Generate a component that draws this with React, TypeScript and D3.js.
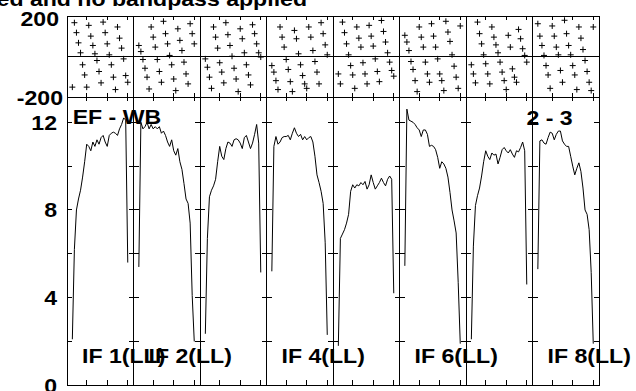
import * as d3 from 'd3';

// channels plotted in every IF
const channels = [3, 4, 5, 6, 7, 8, 9, 10, 11, 12, 13, 14, 15, 16, 17, 18, 19, 20, 21, 22, 23, 24, 25, 26, 27, 28, 29, 30];

// amplitude per IF (Jy-ish units)
const ampIF1 = [2.1, 6.2, 8.0, 8.5, 8.9, 9.5, 10.2, 11.0, 10.9, 10.7, 11.1, 10.9, 11.2, 11.0, 11.3, 11.4, 11.1, 10.9, 11.4, 11.5, 11.55, 11.5, 11.4, 11.7, 11.9, 12.2, 12.1, 5.6];
const ampIF2 = [5.4, 12.0, 11.7, 11.8, 12.0, 11.7, 11.9, 11.7, 11.8, 11.7, 11.8, 11.5, 11.6, 11.4, 11.1, 10.9, 11.2, 10.7, 10.5, 10.8, 10.2, 9.85, 9.2, 8.5, 8.3, 7.4, 4.1, 2.0];
const ampIF3 = [2.35, 6.7, 8.6, 8.9, 9.1, 9.4, 10.2, 10.9, 10.45, 10.3, 10.8, 11.1, 11.05, 10.9, 11.2, 11.25, 11.2, 11.05, 10.8, 11.3, 11.4, 11.1, 10.8, 11.05, 11.45, 11.9, 11.05, 5.15];
const ampIF4 = [5.2, 10.9, 11.35, 11.0, 11.1, 11.3, 11.35, 11.35, 11.4, 11.2, 11.5, 11.75, 11.5, 11.35, 11.45, 11.2, 11.35, 11.2, 11.3, 11.35, 11.1, 10.45, 9.6, 9.25, 8.85, 8.3, 6.5, 2.3];
const ampIF5 = [1.8, 6.7, 6.9, 7.1, 7.4, 7.8, 8.85, 9.15, 9.0, 9.15, 9.1, 9.25, 9.15, 9.3, 8.95, 9.15, 9.6, 9.25, 8.95, 9.1, 9.25, 9.45, 9.25, 9.1, 9.4, 9.55, 9.4, 4.2];
const ampIF6 = [5.45, 12.6, 12.1, 12.05, 12.0, 11.9, 11.75, 11.65, 11.35, 11.65, 11.65, 11.45, 10.9, 10.95, 10.9, 10.75, 10.4, 9.9, 10.2, 10.1, 9.9, 9.5, 8.8, 8.0, 7.5, 6.95, 4.7, 1.9];
const ampIF7 = [2.1, 6.35, 8.2, 8.65, 9.0, 9.55, 10.2, 10.7, 10.45, 10.3, 10.6, 10.5, 10.55, 10.1, 10.4, 10.75, 10.85, 10.7, 10.6, 10.75, 10.55, 10.4, 10.7, 10.65, 10.85, 11.1, 10.7, 4.6];
const ampIF8 = [5.3, 11.15, 11.2, 11.05, 11.0, 11.3, 11.55, 11.5, 11.2, 11.45, 11.6, 11.6, 11.15, 11.0, 10.9, 10.9, 10.45, 10.0, 9.6, 9.9, 10.15, 9.75, 9.0, 8.0, 7.8, 7.1, 5.15, 1.9];

// phase per IF (degrees)
const phaseIF1 = [-150, 167, 118, 68, 19, -40, -90, -150, 154, 101, 55, 14, -19, -73, -129, 170, 118, 63, 9, -40, -101, -162, 146, 91, 42, -11, -93, -126];
const phaseIF2 = [55, 25, -14, -57, -101, -159, 146, 96, 47, -14, -73, -126, 174, 113, 63, 6, -40, -110, -167, 137, 80, 30, -27, -85, -134, 162, 113, 63];
const phaseIF3 = [-11, -52, -101, -156, 146, 96, 42, -30, -76, -129, 167, 108, 55, 2, -57, -110, -172, 137, 88, 19, -40, -90, -139, 157, 113, 63, 19, -2];
const phaseIF4 = [-44, -76, -118, -162, 146, 96, 47, -14, -63, -123, -172, 129, 88, 14, -40, -93, -134, -156, 146, 96, 30, -24, -76, -134, 167, 113, 58, 9];
const phaseIF5 = [-85, -134, 170, 118, 63, 9, -44, -90, -156, 146, 91, 47, -30, -85, -134, 154, 101, 52, -11, -73, -123, 178, 124, 72, 19, -27, -68, -96];
const phaseIF6 = [105, 72, 30, -24, -63, -118, -172, 146, 96, 47, -27, -85, -126, 162, 101, 47, -11, -85, -118, -167, 174, 121, 75, 9, -47, -101, -156, 151];
const phaseIF7 = [-40, -85, -129, 170, 113, 63, 9, -35, -85, -134, 146, 96, 58, 19, -27, -76, -118, -162, 105, 47, -60, -101, -126, 134, 88, 39, 6, -27];
const phaseIF8 = [162, 101, 55, 6, -44, -90, -156, 151, 101, 47, 9, -68, -126, 179, 113, 55, 9, -44, -90, -162, 146, 91, 35, -19, -73, -126, -167, 146];

const ampSeries = [ampIF1, ampIF2, ampIF3, ampIF4, ampIF5, ampIF6, ampIF7, ampIF8];
const phaseSeries = [phaseIF1, phaseIF2, phaseIF3, phaseIF4, phaseIF5, phaseIF6, phaseIF7, phaseIF8];

const ampTicks = [2, 4, 6, 8, 10, 12];
const ampTickLabels = [0, 4, 8, 12];
const channelTicks = [10, 20, 30];
const ifLabels = [
  { panel: 0, text: 'IF 1(LL)' },
  { panel: 1, text: 'IF 2(LL)' },
  { panel: 3, text: 'IF 4(LL)' },
  { panel: 5, text: 'IF 6(LL)' },
  { panel: 7, text: 'IF 8(LL)' },
];
const titleText = 'ed and no bandpass applied';
const sourceText = 'EF - WB';
const baselineText = '2 - 3';

const width = 636;
const height = 391;
const plotLeft = 67;
const plotRight = 599;
const phaseTop = 16;
const phaseBottom = 97.3;
const ampBottom = 385.3;

const font = '"Liberation Sans", Arial, Helvetica, sans-serif';

const Label = (p: { x: number; y: number; text: string; anchor?: string }) => (
  <text
    transform={`translate(${p.x},${p.y}) scale(1.1,1)`}
    textAnchor={p.anchor || 'start'}
    fontFamily={font}
    fontWeight="bold"
    fontSize={21}
    fill="#000"
  >
    {p.text}
  </text>
);

const App = () => {
  const panel = d3.scaleLinear().domain([0, 8]).range([plotLeft, plotRight]);
  const panelW = panel(1) - panel(0);
  const chan = d3.scaleLinear().domain([0.4, 32.8]).range([0, panelW]);
  const amp = d3.scaleLinear().domain([0, 13.14]).range([ampBottom, phaseBottom]);
  const phase = d3.scaleLinear().domain([-200, 200]).range([phaseBottom, phaseTop]);

  const panels = d3.range(8);
  const edges = d3.range(9);

  return (
    <svg width={width} height={height} style={{ position: 'absolute', left: 0, top: 0 }}>
      <rect width={width} height={height} fill="#fff" />

      <g stroke="#000" strokeWidth={1} fill="none" shapeRendering="crispEdges">
        <rect x={plotLeft} y={phaseTop} width={plotRight - plotLeft} height={ampBottom - phaseTop} />
        <line x1={plotLeft} x2={plotRight} y1={phaseBottom} y2={phaseBottom} />
        <line x1={plotLeft} x2={plotRight} y1={phase(0)} y2={phase(0)} />
        {edges.slice(1, 8).map((i) => (
          <line key={'v' + i} x1={panel(i)} x2={panel(i)} y1={phaseTop} y2={ampBottom} />
        ))}
        {panels.map((i) =>
          channelTicks.map((t) => {
            const x = panel(i) + chan(t);
            return (
              <g key={'ct' + i + '-' + t}>
                <line x1={x} x2={x} y1={phaseTop} y2={phaseTop + 4} />
                <line x1={x} x2={x} y1={phaseBottom - 4} y2={phaseBottom + 4} />
                <line x1={x} x2={x} y1={ampBottom - 5} y2={ampBottom} />
              </g>
            );
          })
        )}
        {edges.map((i) =>
          ampTicks.map((v) => (
            <line
              key={'at' + i + '-' + v}
              x1={i === 0 ? panel(i) : panel(i) - 5}
              x2={i === 8 ? panel(i) : panel(i) + 5}
              y1={amp(v)}
              y2={amp(v)}
            />
          ))
        )}
      </g>

      {/* amplitude spectra */}
      <g fill="none" stroke="#000" strokeWidth={1}>
        {ampSeries.map((vals, i) => {
          const line = d3
            .line<number>()
            .x((_, j) => panel(i) + chan(channels[j]))
            .y((d) => amp(d));
          return <path key={'amp' + i} d={line(vals) || ''} />;
        })}
      </g>

      {/* phase points */}
      <g stroke="#000" strokeWidth={1}>
        {phaseSeries.map((vals, i) =>
          vals.map((d, j) => {
            const x = panel(i) + chan(channels[j]);
            const y = phase(d);
            return <path key={'ph' + i + '-' + j} d={`M${x - 3},${y}H${x + 3}M${x},${y - 3}V${y + 3}`} />;
          })
        )}
      </g>

      {/* axis labels */}
      <Label x={59} y={26} text="200" anchor="end" />
      <Label x={63} y={105} text="-200" anchor="end" />
      {ampTickLabels.map((v) => (
        <Label key={'al' + v} x={57} y={amp(v) + 7.5} text={String(v)} anchor="end" />
      ))}

      <Label x={307} y={5.5} text={titleText} anchor="end" />
      <Label x={72.7} y={124} text={sourceText} />
      <Label x={572.7} y={125} text={baselineText} anchor="end" />
      {ifLabels.map((l) => (
        <Label key={l.text} x={panel(l.panel) + 15} y={363.3} text={l.text} />
      ))}
    </svg>
  );
};

export default App;
